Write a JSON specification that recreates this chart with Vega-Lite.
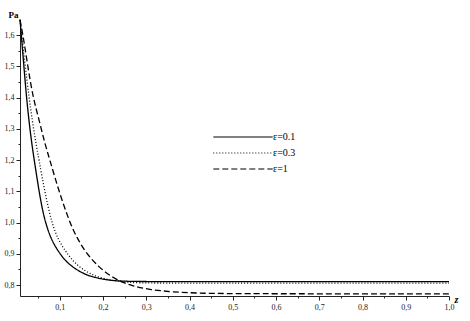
{
  "$schema": "https://vega.github.io/schema/vega-lite/v6.json",
  "width": 429,
  "height": 276,
  "autosize": "none",
  "padding": {"left": 20, "top": 20, "right": 21, "bottom": 25},
  "background": "white",
  "config": {"view": {"stroke": null}, "font": "Liberation Serif"},
  "data": {"values": [
    {"z": 0.008, "P": 1.65, "eps": "ε=0.1"},
    {"z": 0.011, "P": 1.6, "eps": "ε=0.1"},
    {"z": 0.017, "P": 1.5, "eps": "ε=0.1"},
    {"z": 0.023, "P": 1.4, "eps": "ε=0.1"},
    {"z": 0.030, "P": 1.31, "eps": "ε=0.1"},
    {"z": 0.036, "P": 1.245, "eps": "ε=0.1"},
    {"z": 0.042, "P": 1.19, "eps": "ε=0.1"},
    {"z": 0.052, "P": 1.1, "eps": "ε=0.1"},
    {"z": 0.060, "P": 1.04, "eps": "ε=0.1"},
    {"z": 0.067, "P": 1.0, "eps": "ε=0.1"},
    {"z": 0.080, "P": 0.945, "eps": "ε=0.1"},
    {"z": 0.100, "P": 0.9, "eps": "ε=0.1"},
    {"z": 0.120, "P": 0.866, "eps": "ε=0.1"},
    {"z": 0.154, "P": 0.836, "eps": "ε=0.1"},
    {"z": 0.180, "P": 0.824, "eps": "ε=0.1"},
    {"z": 0.215, "P": 0.815, "eps": "ε=0.1"},
    {"z": 0.250, "P": 0.812, "eps": "ε=0.1"},
    {"z": 0.300, "P": 0.811, "eps": "ε=0.1"},
    {"z": 0.500, "P": 0.811, "eps": "ε=0.1"},
    {"z": 1.000, "P": 0.811, "eps": "ε=0.1"},
    {"z": 0.008, "P": 1.648, "eps": "ε=0.3"},
    {"z": 0.012, "P": 1.6, "eps": "ε=0.3"},
    {"z": 0.020, "P": 1.5, "eps": "ε=0.3"},
    {"z": 0.029, "P": 1.4, "eps": "ε=0.3"},
    {"z": 0.036, "P": 1.33, "eps": "ε=0.3"},
    {"z": 0.044, "P": 1.26, "eps": "ε=0.3"},
    {"z": 0.052, "P": 1.2, "eps": "ε=0.3"},
    {"z": 0.065, "P": 1.1, "eps": "ε=0.3"},
    {"z": 0.081, "P": 1.0, "eps": "ε=0.3"},
    {"z": 0.096, "P": 0.945, "eps": "ε=0.3"},
    {"z": 0.117, "P": 0.9, "eps": "ε=0.3"},
    {"z": 0.140, "P": 0.862, "eps": "ε=0.3"},
    {"z": 0.169, "P": 0.836, "eps": "ε=0.3"},
    {"z": 0.200, "P": 0.82, "eps": "ε=0.3"},
    {"z": 0.240, "P": 0.81, "eps": "ε=0.3"},
    {"z": 0.280, "P": 0.807, "eps": "ε=0.3"},
    {"z": 0.350, "P": 0.806, "eps": "ε=0.3"},
    {"z": 1.000, "P": 0.806, "eps": "ε=0.3"},
    {"z": 0.008, "P": 1.648, "eps": "ε=1"},
    {"z": 0.015, "P": 1.6, "eps": "ε=1"},
    {"z": 0.026, "P": 1.5, "eps": "ε=1"},
    {"z": 0.038, "P": 1.4, "eps": "ε=1"},
    {"z": 0.052, "P": 1.33, "eps": "ε=1"},
    {"z": 0.064, "P": 1.26, "eps": "ε=1"},
    {"z": 0.077, "P": 1.2, "eps": "ε=1"},
    {"z": 0.098, "P": 1.1, "eps": "ε=1"},
    {"z": 0.123, "P": 1.0, "eps": "ε=1"},
    {"z": 0.140, "P": 0.95, "eps": "ε=1"},
    {"z": 0.162, "P": 0.9, "eps": "ε=1"},
    {"z": 0.190, "P": 0.858, "eps": "ε=1"},
    {"z": 0.215, "P": 0.831, "eps": "ε=1"},
    {"z": 0.240, "P": 0.811, "eps": "ε=1"},
    {"z": 0.270, "P": 0.796, "eps": "ε=1"},
    {"z": 0.310, "P": 0.785, "eps": "ε=1"},
    {"z": 0.360, "P": 0.778, "eps": "ε=1"},
    {"z": 0.420, "P": 0.774, "eps": "ε=1"},
    {"z": 0.500, "P": 0.772, "eps": "ε=1"},
    {"z": 1.000, "P": 0.772, "eps": "ε=1"}
  ]},
  "mark": {"type": "line", "color": "black", "strokeWidth": 1.3, "interpolate": "basis"},
  "encoding": {
    "x": {
      "field": "z", "type": "quantitative",
      "scale": {"domain": [0.008, 1.0], "nice": false, "zero": false},
      "axis": {
        "title": "z", "titleFont": "Liberation Serif", "titleFontStyle": "italic", "titleFontWeight": "bold",
        "titleFontSize": 10, "titleX": 434, "titleY": 3, "titleAlign": "left", "titleBaseline": "middle",
        "values": [0.05, 0.1, 0.15, 0.2, 0.25, 0.3, 0.35, 0.4, 0.45, 0.5, 0.55, 0.6, 0.65, 0.7, 0.75, 0.8, 0.85, 0.9, 0.95, 1.0],
        "labelExpr": "abs(datum.value * 10 - round(datum.value * 10)) < 0.01 ? replace(format(datum.value, '.1f'), '.', ',') : ''",
        "tickSize": {"condition": {"test": "abs(datum.value * 10 - round(datum.value * 10)) < 0.01", "value": 4}, "value": 2},
        "labelFont": "Liberation Serif", "labelFontSize": 8, "labelColor": "#222",
        "tickColor": "#222", "domainColor": "#222", "grid": false,
        "labelPadding": 3, "labelFlush": false
      }
    },
    "y": {
      "field": "P", "type": "quantitative",
      "scale": {"domain": [0.765, 1.648], "nice": false, "zero": false},
      "axis": {
        "title": "Pa", "titleAngle": 0, "titleFont": "Liberation Serif", "titleFontWeight": "bold",
        "titleFontSize": 9, "titleX": -12, "titleY": -6, "titleAlign": "left", "titleBaseline": "middle",
        "values": [0.8, 0.85, 0.9, 0.95, 1.0, 1.05, 1.1, 1.15, 1.2, 1.25, 1.3, 1.35, 1.4, 1.45, 1.5, 1.55, 1.6],
        "labelExpr": "abs(datum.value * 10 - round(datum.value * 10)) < 0.01 ? replace(format(datum.value, '.1f'), '.', ',') : ''",
        "tickSize": {"condition": {"test": "abs(datum.value * 10 - round(datum.value * 10)) < 0.01", "value": 4}, "value": 2},
        "labelFont": "Liberation Serif", "labelFontSize": 8, "labelColor": "#222",
        "tickColor": "#222", "domainColor": "#222", "grid": false, "labelPadding": 2
      }
    },
    "strokeDash": {
      "field": "eps", "type": "nominal",
      "scale": {"domain": ["ε=0.1", "ε=0.3", "ε=1"], "range": [[1, 0], [1, 2], [6, 3]]},
      "legend": {
        "orient": "none", "legendX": 215, "legendY": 109, "title": null,
        "symbolType": "M-4.2,0H4.2", "symbolSize": 200, "symbolStrokeColor": "black", "symbolStrokeWidth": 1.2,
        "labelFont": "Liberation Serif", "labelFontSize": 10, "rowPadding": 3, "labelOffset": 22
      }
    },
    "detail": {"field": "eps"}
  }
}
